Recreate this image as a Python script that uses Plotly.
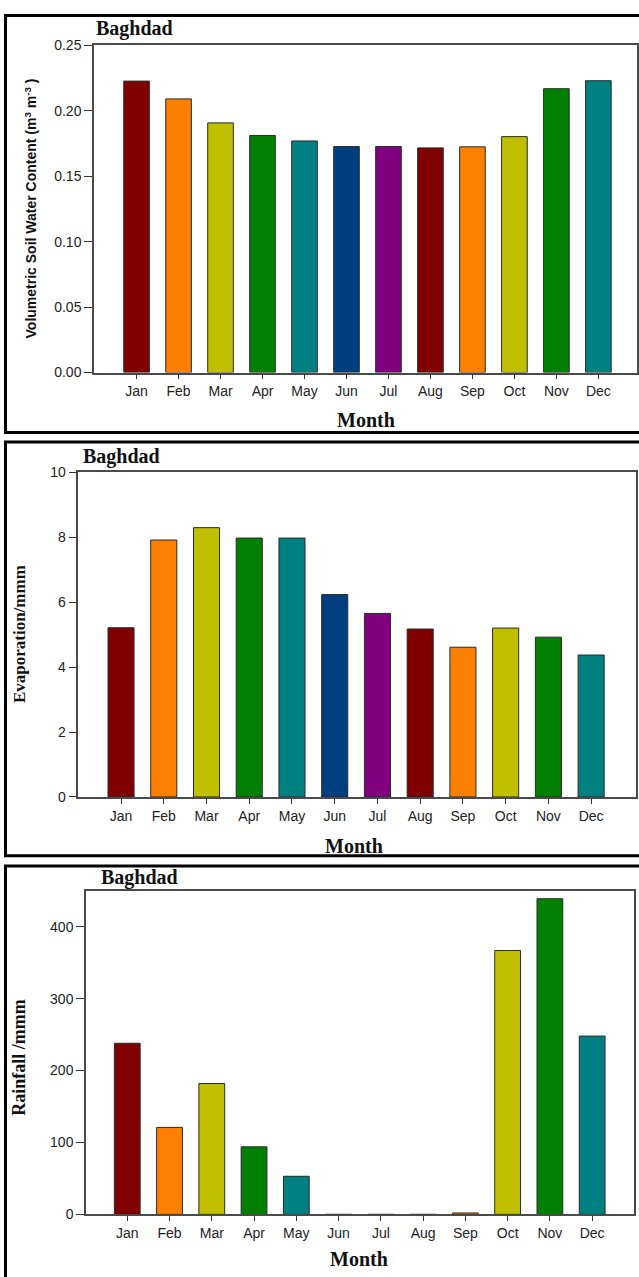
import plotly.graph_objects as go

months = ["Jan", "Feb", "Mar", "Apr", "May", "Jun", "Jul", "Aug", "Sep", "Oct", "Nov", "Dec"]
soil_water = [0.2226, 0.2090, 0.1907, 0.1811, 0.1769, 0.1726, 0.1726, 0.1716, 0.1724, 0.1802, 0.2168, 0.2229]
evaporation = [5.21, 7.91, 8.29, 7.97, 7.97, 6.23, 5.65, 5.17, 4.61, 5.20, 4.92, 4.37]
rainfall = [238, 121, 182, 94, 53, 0, 0, 0, 2, 367, 439, 248]
bar_colors = ["#800000", "#FF8000", "#C0C000", "#008000", "#008080", "#003F7F",
              "#800080", "#800000", "#FF8000", "#C0C000", "#008000", "#008080"]

W, H = 639, 1277


def px(x):
    return x / W


def py(y):
    return 1 - y / H


fig = go.Figure()
panels = [
    dict(vals=soil_water, xdom=(94, 637), ydom=(37.7, 369.2), xr=[-1.014, 11.92], yr=[0, 0.25],
         dtick=0.05, fmt=".2f"),
    dict(vals=evaporation, xdom=(78.3, 636), ydom=(470, 799), xr=[-1.0, 12.05], yr=[0, 10],
         dtick=2, fmt="d"),
    dict(vals=rainfall, xdom=(86, 634), ydom=(894, 1221.7), xr=[-0.976, 11.99], yr=[0, 450],
         dtick=100, fmt="d"),
]

layout = dict(width=W, height=H, margin=dict(l=0, r=0, t=0, b=0),
              paper_bgcolor="white", plot_bgcolor="white", showlegend=False)

for i, p in enumerate(panels):
    n = "" if i == 0 else str(i + 1)
    fig.add_trace(go.Bar(x=months, y=p["vals"], marker=dict(color=bar_colors,
                         line=dict(color="#2a2a2a", width=1)),
                         width=0.61, xaxis="x" + n, yaxis="y" + n))
    layout["xaxis" + n] = dict(domain=[px(p["xdom"][0]), px(p["xdom"][1])], anchor="y" + n,
                               range=p["xr"], type="category", tickmode="array",
                               tickvals=months, ticktext=months,
                               showline=True, linecolor="#4a4a4a",
                               linewidth=1.5, mirror=True, ticks="outside", ticklen=5,
                               tickcolor="#333", showgrid=False, zeroline=False,
                               tickfont=dict(family="Liberation Sans, Arial", size=14, color="#222"))
    layout["yaxis" + n] = dict(domain=[py(p["ydom"][1]), py(p["ydom"][0])], anchor="x" + n,
                               range=p["yr"], dtick=p["dtick"], tickformat=p["fmt"],
                               showline=True, linecolor="#4a4a4a", linewidth=1.5, mirror=True,
                               ticks="outside", ticklen=8, tickcolor="#333", showgrid=False,
                               zeroline=False,
                               tickfont=dict(family="Liberation Sans, Arial", size=14, color="#222"))

fig.update_layout(**layout)

serif_b = "Liberation Serif, Times New Roman"
annotations = []
# station labels
for (x, y) in [(94, 21), (81, 454), (99, 881)]:
    annotations.append(dict(text="<b>Baghdad</b>", x=px(x), y=py(y), xref="paper", yref="paper",
                            xanchor="left", yanchor="middle", showarrow=False,
                            font=dict(family=serif_b, size=20, color="#111")))
# Month titles
for (x, y) in [(366, 417), (354, 849), (359, 1267)]:
    annotations.append(dict(text="<b>Month</b>", x=px(x), y=py(y), xref="paper", yref="paper",
                            xanchor="center", yanchor="middle", showarrow=False,
                            font=dict(family=serif_b, size=20, color="#111")))
# Y titles
annotations.append(dict(text="<b>Volumetric Soil Water Content (m<sup>3</sup> m<sup>-3</sup> )</b>",
                        x=px(31), y=py(203), xref="paper", yref="paper", textangle=-90,
                        xanchor="center", yanchor="middle", showarrow=False,
                        font=dict(family="Liberation Sans, Arial", size=14, color="#111")))
annotations.append(dict(text="<b>Evaporation/mmm</b>", x=px(19), y=py(634), xref="paper",
                        yref="paper", textangle=-90, xanchor="center", yanchor="middle",
                        showarrow=False, font=dict(family=serif_b, size=17, color="#111")))
annotations.append(dict(text="<b>Rainfall /mmm</b>", x=px(19), y=py(1063), xref="paper",
                        yref="paper", textangle=-90, xanchor="center", yanchor="middle",
                        showarrow=False, font=dict(family=serif_b, size=18, color="#111")))
fig.update_layout(annotations=annotations)

# outer panel frames
shapes = []
for (y0, y1) in [(7.5, 430), (439.5, 858.5), (869, 1290)]:
    shapes.append(dict(type="rect", xref="paper", yref="paper", x0=px(5.5), x1=px(660),
                       y0=py(y1), y1=py(y0), line=dict(color="black", width=3)))
fig.update_layout(shapes=shapes)

post = ("document.body.style.margin='0';document.body.style.overflow='hidden';"
        "var gd=document.getElementById('{plot_id}');gd.style.position='fixed';"
        "gd.style.top='0px';gd.style.left='0px';")
fig.write_html("out.html", post_script=post, config={"displayModeBar": False})
